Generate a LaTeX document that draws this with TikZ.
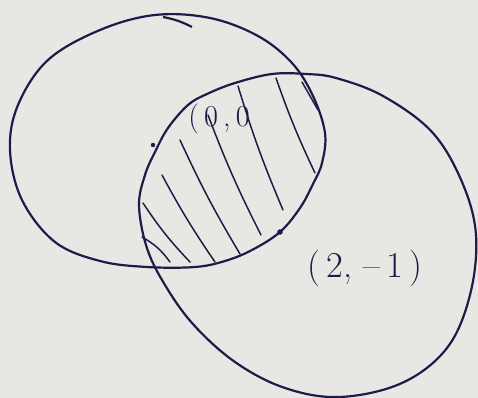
\documentclass[tikz,border=0pt]{standalone}
\usepackage{tikz}
\definecolor{Ink}{HTML}{1D1C48}
\definecolor{Paper}{HTML}{E8E7E3}

\begin{document}
\begin{tikzpicture}[x=0.02cm, y=-0.02cm,
    rim/.style={draw=Ink, line width=1.25pt, line join=round},
    hatch/.style={draw=Ink, line width=0.85pt, line cap=round},
    every node/.style={text=Ink, inner sep=0pt}]
  \fill[Paper] (0,0) rectangle (478,398);
  \useasboundingbox (0,0) rectangle (478,398);
  % upper-left disc
  \draw[rim] plot[smooth cycle, tension=0.6] coordinates {
    (147,267) (100,261) (55,242) (22,200) (10,150) (18,105) (48,60)
    (100,30) (155,15) (210,18) (258,36) (292,63) (313,96) (325,133)
    (322,163) (313,184) (300,208) (280,232) (252,250) (225,261)
    (195,267)};
  \draw[rim] (163,17) to[bend left=8] (192,27);
  % lower-right disc
  \draw[rim] plot[smooth cycle, tension=0.6] coordinates {
    (306,74) (336,78) (383,96) (432,132) (462,182) (476,235) (470,295)
    (447,348) (402,383) (340,397) (285,388) (235,362) (192,323)
    (162,280) (146,245) (139,205) (145,175) (155,152) (168,128)
    (188,105) (207,94) (235,83) (272,74)};
  % shading of the overlap
  \draw[hatch] (302,82) -- (318,110);
  \draw[hatch] (276,78) to[bend right=3] (315,173);
  \draw[hatch] (238,86) to[bend right=3] (283,210);
  \draw[hatch] (208,115) to[bend right=3] (261,235);
  \draw[hatch] (180,140) to[bend right=3] (240,254);
  \draw[hatch] (162,175) to[bend right=3] (215,262);
  \draw[hatch] (143,203) to[bend right=5] (190,262);
  \draw[hatch] (142,237) to[bend left=12] (170,262);
  % points and labels
  \coordinate (p) at (153,145);
  \coordinate (q) at (280,232);
  \fill[Ink] (p) circle (2.2);
  \fill[Ink] (q) circle (2.8);
  \node[font=\LARGE] (origin) at (219,119) {(\,0\,,\,0};
  \node[font=\huge] (shift) at (365,268) {(\,2, --\,1\,)};
\end{tikzpicture}
\end{document}
